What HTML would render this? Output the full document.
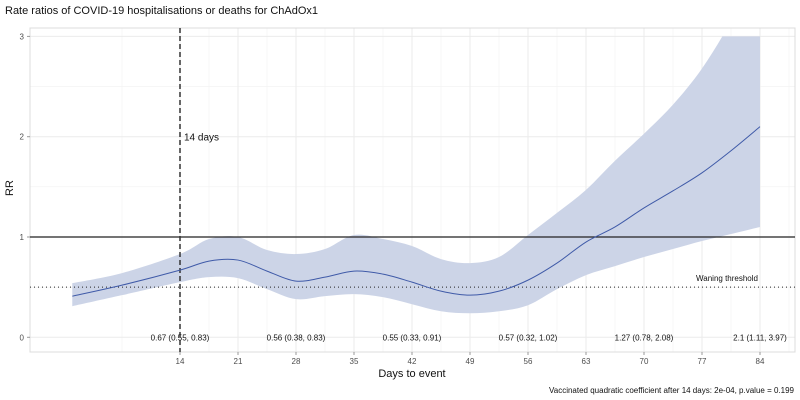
<!DOCTYPE html>
<html><head><meta charset="utf-8"><style>
body{margin:0;background:#fff;}
svg{display:block;font-family:"Liberation Sans",sans-serif;}
</style></head><body>
<svg id="chart" width="800" height="400"></svg>
<script>
const days=[1,7,14,17.5,21,24.5,28,31.5,35,38.5,42,45.5,49,52.5,56,59.5,63,66.5,70,73.5,77,80.5,84];
const estimate=[0.41,0.52,0.67,0.76,0.77,0.66,0.56,0.6,0.66,0.63,0.55,0.46,0.42,0.46,0.57,0.74,0.95,1.1,1.29,1.46,1.64,1.86,2.1];
const lower=[0.31,0.42,0.55,0.6,0.59,0.48,0.38,0.41,0.43,0.4,0.33,0.26,0.24,0.26,0.32,0.48,0.62,0.71,0.8,0.88,0.96,1.03,1.1];
const upper=[0.54,0.64,0.83,0.98,1.0,0.87,0.83,0.88,1.02,0.98,0.91,0.78,0.74,0.8,1.02,1.24,1.47,1.76,2.03,2.32,2.68,3.15,3.7];
const xTicks=[14,21,28,35,42,49,56,63,70,77,84];
const yTicks=[0,1,2,3];
const labelDays=[14,28,42,56,70,84];
const labelTexts=["0.67 (0.55, 0.83)","0.56 (0.38, 0.83)","0.55 (0.33, 0.91)","0.57 (0.32, 1.02)","1.27 (0.78, 2.08)","2.1 (1.11, 3.97)"];
const threshold=0.5, yMax=3;

const NS="http://www.w3.org/2000/svg";
const svg=document.getElementById('chart');
const X=d=>64+d*(760-64)/84;
const Y=v=>337.3-v*100.3;
function mk(tag,attrs,parent){const e=document.createElementNS(NS,tag);for(const k in attrs)e.setAttribute(k,attrs[k]);(parent||svg).appendChild(e);return e;}
function smooth(pts){let d="M"+pts[0][0]+","+pts[0][1];for(let i=0;i<pts.length-1;i++){const p0=pts[Math.max(i-1,0)],p1=pts[i],p2=pts[i+1],p3=pts[Math.min(i+2,pts.length-1)];const c1=[p1[0]+(p2[0]-p0[0])/6,p1[1]+(p2[1]-p0[1])/6],c2=[p2[0]-(p3[0]-p1[0])/6,p2[1]-(p3[1]-p1[1])/6];d+=" C"+c1+" "+c2+" "+p2;}return d;}
function smoothNoM(pts){return smooth(pts).replace(/^M[^ ]+/,"");}

const grid=mk('g',{});


const minorX=[7].concat(xTicks.slice(0,-1).map(t=>t+3.5)).concat([87.5]);
minorX.forEach(t=>{const x=X(t);if(x<795)mk('line',{x1:x,x2:x,y1:28,y2:352,stroke:'#f2f2f2','stroke-width':0.6},grid);});
[0.5,1.5,2.5].forEach(v=>mk('line',{x1:30,x2:795,y1:Y(v),y2:Y(v),stroke:'#f2f2f2','stroke-width':0.6},grid));
xTicks.forEach(t=>mk('line',{x1:X(t),x2:X(t),y1:28,y2:352,stroke:'#ebebeb','stroke-width':1},grid));
yTicks.forEach(v=>mk('line',{x1:30,x2:795,y1:Y(v),y2:Y(v),stroke:'#ebebeb','stroke-width':1},grid));
const border=mk('rect',{x:30,y:28,width:765,height:324,fill:'none',stroke:'#dcdcdc','stroke-width':1});



const up=days.map((d,i)=>[X(d),Y(upper[i])]);
const lo=days.map((d,i)=>[X(d),Y(lower[i])]).reverse();
const cp=mk('clipPath',{id:'clip'});mk('rect',{x:30,y:Y(yMax),width:765,height:352-Y(yMax)},cp);
const ribbon=mk('path',{d:smooth(up)+" L"+lo[0]+smoothNoM(lo)+" Z",fill:'#ccd4e7','clip-path':'url(#clip)'});



const one=mk('line',{x1:30,x2:795,y1:Y(1),y2:Y(1),stroke:'#222','stroke-width':1.2});


const thr=mk('line',{x1:30,x2:795,y1:Y(threshold),y2:Y(threshold),stroke:'#222','stroke-width':1,'stroke-dasharray':'1,3'});


const vl=mk('line',{x1:X(14),x2:X(14),y1:28,y2:352,stroke:'#333','stroke-width':1.5,'stroke-dasharray':'5,3'});



const est=mk('path',{d:smooth(days.map((d,i)=>[X(d),Y(estimate[i])])),fill:'none',stroke:'#3f5aa8','stroke-width':1});



function txt(s,attrs,name){const t=mk('text',attrs);t.textContent=s;return t;}
labelDays.forEach((d,i)=>txt(labelTexts[i],{x:X(d),y:Y(0)+3,'font-size':8,'text-anchor':'middle',fill:'#111'},'estimate-label'));
txt('14 days',{x:X(14)+4,y:Y(2)+4,'font-size':10,fill:'#111'},'day-14-annotation');
txt('Waning threshold',{x:727,y:281,'font-size':8,'text-anchor':'middle',fill:'#111'},'waning-threshold-label');

xTicks.forEach(t=>{const l=mk('line',{x1:X(t),x2:X(t),y1:352,y2:355,stroke:'#999'});txt(String(t),{x:X(t),y:364,'font-size':8,'text-anchor':'middle',fill:'#4d4d4d'},'x-tick-label');});
yTicks.forEach(v=>{const l=mk('line',{x1:27,x2:30,y1:Y(v),y2:Y(v),stroke:'#999'});txt(String(v),{x:24,y:Y(v)+3,'font-size':8,'text-anchor':'end',fill:'#4d4d4d'},'y-tick-label');});

txt('Rate ratios of COVID-19 hospitalisations or deaths for ChAdOx1',{x:5,y:14,'font-size':11,fill:'#111'},'chart-title');
txt('Days to event',{x:412,y:377,'font-size':11,'text-anchor':'middle',fill:'#111'},'x-axis-title');
txt('RR',{x:13,y:188,'font-size':11,'text-anchor':'middle',fill:'#111',transform:'rotate(-90 13 188)'},'y-axis-title');
txt('Vaccinated quadratic coefficient after 14 days: 2e-04, p.value = 0.199',{x:794,y:393,'font-size':8,'text-anchor':'end',fill:'#111'},'caption');
</script>
</body></html>
